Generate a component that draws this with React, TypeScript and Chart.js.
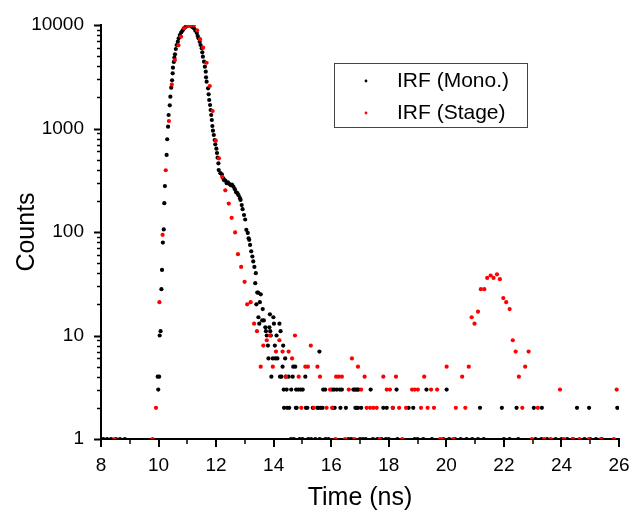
import React, { useEffect, useRef } from 'react';
import { Chart, registerables } from 'chart.js';

Chart.register(...registerables);

// ---------- data ----------
const seriesNames = ['IRF (Mono.)', 'IRF (Stage)'];

const monoTime = [
  8.08, 8.21, 8.35, 8.52, 8.66, 8.83,
  9.97, 9.99, 10.02, 10.04, 10.07, 10.10, 10.12, 10.15, 10.18, 10.20, 10.22, 10.28, 10.30, 10.33,
  10.35, 10.39, 10.41, 10.44, 10.47, 10.49, 10.50, 10.53, 10.55, 10.57, 10.60, 10.63, 10.67, 10.70,
  10.74, 10.79, 10.84, 10.88, 10.94, 11.00, 11.06, 11.12, 11.17, 11.23, 11.28, 11.33, 11.36, 11.39,
  11.43, 11.46, 11.50, 11.52, 11.54, 11.58, 11.61, 11.64, 11.65, 11.67, 11.72, 11.74, 11.76, 11.79,
  11.81, 11.83, 11.85, 11.87, 11.89, 11.92, 11.95, 11.97, 12.01, 12.03, 12.05, 12.08, 12.09, 12.15,
  12.20, 12.25, 12.27, 12.32, 12.37, 12.41, 12.46, 12.51, 12.55, 12.60, 12.65, 12.69, 12.74, 12.78,
  12.83, 12.85, 12.89, 12.92, 12.97, 13.01, 13.05, 13.10, 13.13, 13.15, 13.18, 13.22, 13.26, 13.29,
  13.33, 13.36, 13.38, 13.40, 13.43, 13.46, 13.47, 13.50, 13.52, 13.55, 13.60, 13.62, 13.66, 13.71,
  13.73, 13.76, 13.80, 13.82, 13.85, 13.87, 13.88, 13.90, 13.92, 13.97, 13.99, 14.01, 14.04, 14.06,
  14.10, 14.13, 14.20, 14.22, 14.24, 14.27, 14.31, 14.33, 14.35, 14.36, 14.40, 14.42, 14.45, 14.47,
  14.52, 14.54, 14.61, 14.66, 14.68, 14.75, 14.77, 14.78, 14.80, 14.86, 14.94, 15.01, 15.10, 15.12,
  15.17, 15.36, 15.52, 15.56, 15.59, 15.63, 15.70, 15.72, 15.79, 16.03, 16.05, 16.10, 16.12, 16.19,
  16.30, 16.32, 16.37, 16.51, 16.77, 16.81, 16.84, 16.86, 16.88, 16.90, 16.93, 16.95, 17.04, 17.37,
  17.81, 17.93, 18.14, 18.27, 18.69, 18.85, 19.31, 20.01, 21.17, 21.93, 22.44, 23.04, 23.32, 24.54,
  24.96, 25.94,
  14.60, 14.70, 14.90, 15.00, 15.20, 15.30, 15.45, 15.60, 15.80, 15.90, 16.60, 16.70, 17.00, 17.10,
  17.20, 17.45, 17.60, 17.75, 17.90, 18.00, 18.30, 18.90, 19.00, 19.20, 19.50, 19.90, 20.10, 20.30,
  20.50, 20.70, 20.90, 21.10, 21.30, 22.00, 22.20, 22.50, 23.10, 23.30, 23.50, 23.80, 24.00, 24.20,
  24.40, 24.80, 25.00, 25.20, 25.40,
];

const monoCounts = [
  1, 1, 1, 1, 1, 1,
  4, 3, 4, 10, 11, 28, 43, 79, 106, 190, 278, 555, 787, 1041,
  1350, 1676, 2028, 2478, 2923, 3414, 3870, 4394, 4830, 5212, 5863, 6412, 6900, 7434,
  8000, 8500, 8890, 9290, 9570, 9780, 9940, 9780, 9570, 9290, 8810, 8370, 7830, 7434,
  6900, 6412, 5960, 5450, 4940, 4420, 3955, 3540, 3125, 2832, 2445, 2140, 1885, 1687,
  1510, 1350, 1208, 1057, 952, 865, 774, 704, 638, 580, 522, 461, 397, 370,
  361, 330, 318, 313, 296, 302, 291, 283, 287, 274, 259, 243, 237, 226,
  212, 204, 182, 166, 146, 132, 105, 98, 87, 84, 75, 65, 58, 52,
  46, 32, 40, 20, 26, 26, 15, 13, 21, 25, 14, 18, 14, 12,
  11, 10, 8, 6, 12, 16, 11, 10, 4, 6, 15, 13, 8, 6,
  10, 6, 13, 4, 11, 4, 5, 8, 3, 2, 6, 4, 3, 2,
  4, 2, 3, 4, 5, 5, 2, 3, 2, 3, 3, 3, 4, 2,
  2, 2, 2, 2, 7, 2, 2, 3, 3, 3, 2, 3, 2, 3,
  3, 2, 3, 2, 3, 3, 2, 3, 2, 3, 2, 3, 2, 3,
  2, 2, 2, 3, 2, 2, 3, 3, 2, 2, 2, 2, 2, 2,
  2, 2,
  1, 1, 1, 1, 1, 1, 1, 1, 1, 1, 1, 1, 1, 1,
  1, 1, 1, 1, 1, 1, 1, 1, 1, 1, 1, 1, 1, 1,
  1, 1, 1, 1, 1, 1, 1, 1, 1, 1, 1, 1, 1, 1,
  1, 1, 1, 1, 1,
];

const stageTime = [
  8.47, 9.79, 9.91, 10.03, 10.14, 10.25, 10.36, 10.46, 10.57, 10.69, 10.78, 10.89, 11.01, 11.12,
  11.23, 11.34, 11.44, 11.55, 11.67, 11.78, 11.88, 11.99, 12.10, 12.21, 12.32, 12.44, 12.54, 12.66,
  12.76, 12.87, 12.99, 13.08, 13.20, 13.32, 13.42, 13.55, 13.64, 13.76, 13.87, 13.97, 14.08, 14.20,
  14.31, 14.43, 14.52, 14.64, 14.74, 14.87, 14.96, 15.10, 15.19, 15.29, 15.40, 15.52, 15.61, 15.84,
  15.96, 16.03, 16.15, 16.17, 16.26, 16.37, 16.48, 16.61, 16.72, 16.81, 16.93, 17.04, 17.16, 17.23,
  17.35, 17.46, 17.58, 17.69, 17.81, 17.93, 18.04, 18.14, 18.25, 18.36, 18.47, 18.60, 18.81, 18.90,
  19.01, 19.12, 19.23, 19.35, 19.47, 19.57, 19.68, 19.78, 19.87, 20.01, 20.24, 20.33, 20.55, 20.66,
  20.78, 20.88, 20.98, 21.10, 21.20, 21.32, 21.42, 21.54, 21.64, 21.76, 21.86, 21.98, 22.08, 22.20,
  22.31, 22.41, 22.52, 22.64, 22.74, 22.86, 22.97, 23.18, 23.40, 23.63, 23.95, 24.09, 24.39, 24.62,
  24.95, 25.37, 25.82, 25.92,
];

const stageCounts = [
  1, 1, 2, 21, 94, 395, 1181, 2650, 4590, 6370, 7710, 9290, 9780, 9940,
  9990, 8890, 7300, 6040, 4320, 2575, 1476, 762, 515, 342, 253, 188, 137, 99,
  61, 46, 33, 20, 21, 13, 11, 5, 8, 9, 10, 5, 7, 9,
  7, 4, 7, 6, 10, 4, 2, 5, 5, 8, 2, 5, 4, 2,
  3, 2, 1, 4, 4, 4, 1, 3, 6, 1, 5, 3, 4, 2,
  2, 2, 2, 1, 4, 3, 3, 2, 4, 2, 1, 2, 3, 3,
  3, 2, 4, 2, 3, 2, 3, 1, 1, 5, 1, 2, 4, 2,
  5, 15, 13, 17, 28, 28, 36, 38, 36, 39, 35, 23, 21, 18,
  9, 7, 4, 2, 5, 7, 1, 2, 1, 1, 3, 1, 1, 1,
  1, 1, 1, 3,
];

const xMin = 8;
const xMax = 26;
const xStep = 2;
const yMin = 1;
const yMax = 10000;
const yLabels = [1, 10, 100, 1000, 10000];

const FONT = "'Liberation Sans', Arial, Helvetica, sans-serif";

const tickMarks = {
  id: 'tickMarks',
  afterDraw(chart: any) {
    const { ctx, chartArea, scales } = chart;
    const xs = scales.x;
    const ys = scales.y;
    ctx.save();
    ctx.strokeStyle = '#000';
    for (let d = yMin; d <= yMax; d *= 10) {
      const last = d === yMax ? 1 : 9;
      for (let m = 1; m <= last; m++) {
        const v = m * d;
        const py = Math.round(ys.getPixelForValue(v)) + 0.5;
        const major = m === 1;
        ctx.lineWidth = major ? 2 : 1.5;
        ctx.beginPath();
        ctx.moveTo(chartArea.left, py);
        ctx.lineTo(chartArea.left - (major ? 7 : 4), py);
        ctx.stroke();
      }
    }
    for (let v = xMin; v <= xMax; v += 1) {
      const px = Math.round(xs.getPixelForValue(v));
      const major = (v - xMin) % xStep === 0;
      ctx.lineWidth = major ? 2 : 1.5;
      ctx.beginPath();
      ctx.moveTo(px, chartArea.bottom);
      ctx.lineTo(px, chartArea.bottom + (major ? 8 : 5));
      ctx.stroke();
    }
    ctx.restore();
  },
};

const boxLegend = {
  id: 'boxLegend',
  afterDraw(chart: any) {
    const { ctx } = chart;
    const left = 334;
    const top = 63;
    const w = 193;
    const h = 64;
    ctx.save();
    ctx.fillStyle = '#fff';
    ctx.fillRect(left, top, w, h);
    ctx.strokeStyle = '#444';
    ctx.lineWidth = 1;
    ctx.strokeRect(left + 0.5, top + 0.5, w, h);
    const rows = [top + 18, top + 50];
    chart.data.datasets.forEach((ds: any, i: number) => {
      const cy = rows[i];
      ctx.fillStyle = ds.pointBackgroundColor;
      ctx.beginPath();
      ctx.arc(366, cy, 1.4, 0, Math.PI * 2);
      ctx.fill();
      ctx.fillStyle = '#000';
      ctx.font = `21px ${FONT}`;
      ctx.textBaseline = 'middle';
      ctx.textAlign = 'left';
      ctx.fillText(ds.label, 397, cy);
    });
    ctx.restore();
  },
};

export default function App() {
  const ref = useRef<HTMLCanvasElement | null>(null);

  useEffect(() => {
    if (!ref.current) return;
    const mono = monoTime.map((t, i) => ({ x: t, y: monoCounts[i] }));
    const stage = stageTime.map((t, i) => ({ x: t, y: stageCounts[i] }));
    const chart = new Chart(ref.current, {
      type: 'scatter',
      data: {
        datasets: [
          {
            label: seriesNames[0],
            data: mono,
            pointRadius: 2.1,
            pointBorderWidth: 0,
            pointBackgroundColor: '#000000',
            pointBorderColor: '#000000',
            order: 1,
          },
          {
            label: seriesNames[1],
            data: stage,
            pointRadius: 2.1,
            pointBorderWidth: 0,
            pointBackgroundColor: '#ff0000',
            pointBorderColor: '#ff0000',
            order: 0,
          },
        ],
      },
      options: {
        responsive: false,
        animation: false,
        devicePixelRatio: 1,
        layout: { padding: { top: 25, right: 14, left: 0, bottom: 0 } },
        plugins: {
          legend: { display: false },
          tooltip: { enabled: false },
        },
        scales: {
          x: {
            type: 'linear',
            min: xMin,
            max: xMax,
            grid: { display: false, drawTicks: false },
            border: { display: true, color: '#000', width: 2 },
            ticks: {
              stepSize: xStep,
              padding: 15,
              color: '#000',
              font: { family: FONT, size: 19 },
              maxRotation: 0,
            },
            title: {
              display: true,
              text: 'Time (ns)',
              color: '#000',
              font: { family: FONT, size: 25 },
              padding: { top: 0, bottom: 0 },
            },
            afterFit(scale: any) {
              scale.height = 74;
              scale.paddingLeft = 0;
              scale.paddingRight = 0;
            },
          },
          y: {
            type: 'logarithmic',
            min: yMin,
            max: yMax,
            grid: { display: false, drawTicks: false },
            border: { display: true, color: '#000', width: 2 },
            ticks: {
              autoSkip: false,
              padding: 17,
              color: '#000',
              font: { family: FONT, size: 19 },
              callback: (v: any) => (yLabels.includes(Number(v)) ? String(v) : ''),
            },
            title: {
              display: true,
              text: 'Counts',
              color: '#000',
              font: { family: FONT, size: 25 },
              padding: { top: 12, bottom: 0 },
            },
            afterFit(scale: any) {
              scale.width = 101;
              scale.paddingTop = 0;
              scale.paddingBottom = 0;
            },
          },
        },
      },
      plugins: [tickMarks, boxLegend],
    });
    return () => chart.destroy();
  }, []);

  return (
    <div style={{ position: 'absolute', left: 0, top: 0, width: 633, height: 513, background: '#fff' }}>
      <canvas ref={ref} width={633} height={513} style={{ display: 'block' }} />
    </div>
  );
}
